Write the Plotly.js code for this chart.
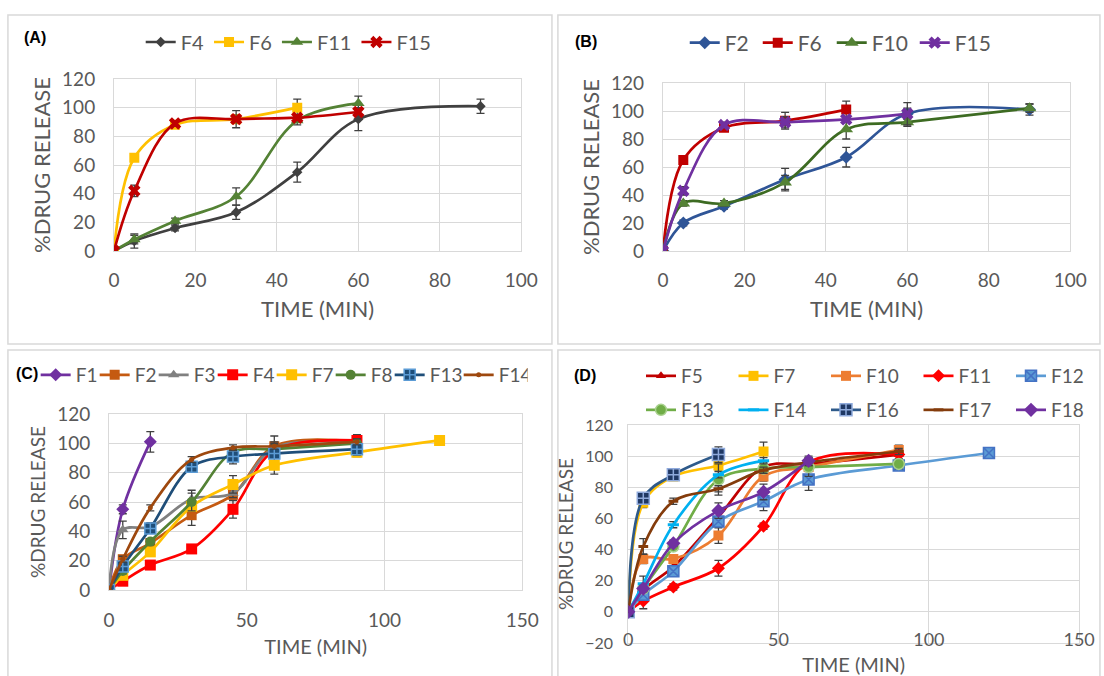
<!DOCTYPE html>
<html><head><meta charset="utf-8">
<script src="https://cdn.plot.ly/plotly-3.0.1.min.js"></script>
<style>html,body{margin:0;padding:0;background:#fff}#chart{width:1104px;height:676px}</style>
</head><body><div id="chart"></div>
<script>
// ---------------- DATA ----------------
const time = [0, 5, 15, 30, 45, 60, 90, 120];   // minutes

// Panel (A)
const A_F4 = [0, 7, 16, 27, 55, 92, 101];      const A_F4_err = [0, 5, 2, 5, 7, 8, 5];
const A_F6 = [0, 65, 88, 92, 100];             const A_F6_err = [0, 2, 2, 3, 6];
const A_F11 = [0, 8, 21, 38, 91, 103];         const A_F11_err = [0, 3, 2, 6, 3, 5];
const A_F15 = [0, 42, 89, 92, 93, 97];         const A_F15_err = [0, 4, 2, 6, 2, 3];

// Panel (B)
const B_F2 = [0, 20, 32, 51, 67, 98, 101];     const B_F2_err = [0, 2, 2, 8, 7, 4, 4];
const B_F6 = [0, 65, 88, 93, 101];             const B_F6_err = [0, 2, 2, 6, 6];
const B_F10 = [0, 34, 34, 49, 87, 92, 102];    const B_F10_err = [0, 2, 2, 5, 7, 3, 3];
const B_F15 = [0, 43, 90, 92, 94, 98];         const B_F15_err = [0, 3, 2, 4, 2, 8];

// Panel (C)
const C_F1 = [0, 55, 101];                          const C_F1_err = [0, 3, 7];
const C_F2 = [0, 21, 32, 51, 65, 98, 101];          const C_F2_err = [0, 2, 2, 7, 3, 7, 3];
const C_F3 = [0, 41, 43, 62, 66, 97, 100];          const C_F3_err = [0, 6, 3, 6, 3, 4, 3];
const C_F4 = [0, 6, 17, 28, 55, 95, 102];           const C_F4_err = [0, 2, 2, 3, 6, 3, 4];
const C_F7 = [0, 10, 26, 57, 72, 85, 94, 102];      const C_F7_err = [0, 2, 2, 3, 6, 6, 3, 2];
const C_F8 = [0, 13, 33, 60, 94, 96, 100];          const C_F8_err = [0, 2, 2, 6, 3, 3, 3];
const C_F13 = [0, 16, 42, 84, 91, 93, 96];          const C_F13_err = [0, 2, 3, 3, 5, 3, 4];
const C_F14 = [0, 21, 56, 89, 97, 98, 101];         const C_F14_err = [0, 2, 2, 2, 2, 2, 2];

// Panel (D)
const D_F5 = [0, 14, 29, 61, 93, 95, 101];          const D_F5_err = [0, 2, 2, 3, 3, 3, 3];
const D_F7 = [0, 70, 87, 94, 103];                  const D_F7_err = [0, 3, 2, 3, 6];
const D_F10 = [0, 34, 34, 49, 87, 93, 104];         const D_F10_err = [0, 3, 2, 5, 3, 3, 3];
const D_F11 = [0, 7, 16, 28, 55, 96, 101];          const D_F11_err = [0, 5, 2, 5, 2, 3, 3];
const D_F12 = [0, 11, 26, 58, 71, 85, 94, 102];     const D_F12_err = [0, 2, 2, 3, 6, 7, 3, 2];
const D_F13 = [0, 15, 42, 85, 92, 93, 95];          const D_F13_err = [0, 2, 2, 10, 3, 6, 3];
const D_F14 = [0, 18, 56, 88, 97];                  const D_F14_err = [0, 5, 2, 2, 2];
const D_F16 = [0, 73, 88, 101];                     const D_F16_err = [0, 3, 2, 5];
const D_F17 = [0, 42, 71, 79, 91, 96, 103];         const D_F17_err = [0, 5, 2, 2, 2, 2, 2];
const D_F18 = [0, 15, 44, 65, 77, 97];              const D_F18_err = [0, 2, 2, 5, 5, 3];

const xTitle = 'TIME (MIN)';
const yTitle = '%DRUG RELEASE';

// ---------------- STYLE ----------------
const FONT = 'Lato, "Open Sans", sans-serif';
const TXT = '#595959';
const GRID = '#D9D9D9';
const ERRC = '#404040';

function tr(name, y, err, ax, legend, color, symbol, size, extra) {
  const t = {
    type: 'scatter', mode: 'lines+markers', name: name,
    x: time.slice(0, y.length), y: y,
    xaxis: 'x' + (ax === 1 ? '' : ax), yaxis: 'y' + (ax === 1 ? '' : ax),
    legend: legend,
    line: {color: color, width: 2.7, shape: 'spline', smoothing: 1},
    marker: {symbol: symbol, size: size, color: color, line: {width: 0}},
    error_y: {type: 'data', array: err, visible: true, color: ERRC, thickness: 1.3, width: 4},
    hoverinfo: 'skip'
  };
  if (extra) {
    if (extra.line) Object.assign(t.line, extra.line);
    if (extra.marker) Object.assign(t.marker, extra.marker);
    if (extra.legendwidth !== undefined) t.legendwidth = extra.legendwidth;
  }
  return t;
}

const data = [
  // A
  tr('F4', A_F4, A_F4_err, 1, 'legend', '#404040', 'diamond', 8),
  tr('F6', A_F6, A_F6_err, 1, 'legend', '#FFC000', 'square', 10),
  tr('F11', A_F11, A_F11_err, 1, 'legend', '#548235', 'triangle-up', 11),
  tr('F15', A_F15, A_F15_err, 1, 'legend', '#C00000', 'x', 11),
  // B
  tr('F2', B_F2, B_F2_err, 2, 'legend2', '#2F5597', 'diamond', 10, {legendwidth: 28}),
  tr('F6', B_F6, B_F6_err, 2, 'legend2', '#C00000', 'square', 10, {legendwidth: 29}),
  tr('F10', B_F10, B_F10_err, 2, 'legend2', '#3D6B22', 'triangle-up', 12, {marker: {color: '#548235'}, legendwidth: 38}),
  tr('F15', B_F15, B_F15_err, 2, 'legend2', '#7030A0', 'x', 11, {legendwidth: 38}),
  // C
  tr('F1', C_F1, C_F1_err, 3, 'legend3', '#7030A0', 'diamond', 10, {legendwidth: 14}),
  tr('F2', C_F2, C_F2_err, 3, 'legend3', '#C55A11', 'square', 10, {legendwidth: 14}),
  tr('F3', C_F3, C_F3_err, 3, 'legend3', '#808080', 'triangle-up', 10, {legendwidth: 14}),
  tr('F4', C_F4, C_F4_err, 3, 'legend3', '#FF0000', 'square', 11, {legendwidth: 14}),
  tr('F7', C_F7, C_F7_err, 3, 'legend3', '#FFC000', 'square', 11, {legendwidth: 14}),
  tr('F8', C_F8, C_F8_err, 3, 'legend3', '#548235', 'circle', 10, {legendwidth: 14}),
  tr('F13', C_F13, C_F13_err, 3, 'legend3', '#1F4E79', 'square-cross', 11, {marker: {line: {color: '#5B9BD5', width: 1.5}}, legendwidth: 24}),
  tr('F14', C_F14, C_F14_err, 3, 'legend3', '#9E480E', 'circle', 5, {legendwidth: 24}),
  // D row 1
  tr('F5', D_F5, D_F5_err, 4, 'legend4', '#C00000', 'triangle-up', 9),
  tr('F7', D_F7, D_F7_err, 4, 'legend4', '#FFC000', 'square', 10),
  tr('F10', D_F10, D_F10_err, 4, 'legend4', '#ED7D31', 'square', 10),
  tr('F11', D_F11, D_F11_err, 4, 'legend4', '#FF0000', 'diamond', 10),
  tr('F12', D_F12, D_F12_err, 4, 'legend4', '#5B9BD5', 'square-x', 11, {marker: {line: {color: '#4472C4', width: 1.5}}}),
  // D row 2
  tr('F13', D_F13, D_F13_err, 4, 'legend5', '#70AD47', 'circle', 11, {marker: {line: {color: '#A9D18E', width: 1.5}}}),
  tr('F14', D_F14, D_F14_err, 4, 'legend5', '#00B0F0', 'line-ew', 8, {marker: {line: {color: '#00B0F0', width: 3}}}),
  tr('F16', D_F16, D_F16_err, 4, 'legend5', '#1F3864', 'square-cross', 12, {line: {color: '#2E5A8A'}, marker: {line: {color: '#8FAADC', width: 1.5}}}),
  tr('F17', D_F17, D_F17_err, 4, 'legend5', '#843C0C', 'line-ew', 7, {marker: {line: {color: '#843C0C', width: 3}}}),
  tr('F18', D_F18, D_F18_err, 4, 'legend5', '#7030A0', 'diamond', 11)
];

// ---------------- LAYOUT ----------------
const W = 1104, H = 676;
const px = v => v / W;
const py = v => 1 - v / H;

function xax(dom, range, dtick, tickSize, titleSize, labStand, titleStand) {
  return {
    domain: dom, range: range, dtick: dtick, tick0: 0, autorange: false,
    showgrid: true, gridcolor: GRID, gridwidth: 1, zeroline: false,
    showline: true, mirror: true, linecolor: GRID, linewidth: 1, ticks: '',
    tickfont: {family: FONT, size: tickSize, color: TXT},
    ticklabelstandoff: labStand, fixedrange: true,
    title: {text: xTitle, font: {family: FONT, size: titleSize, color: TXT}, standoff: titleStand}
  };
}
function yax(dom, range, anchor, tickSize, titleSize, labStand, titleStand) {
  return {
    domain: dom, range: range, dtick: 20, tick0: 0, autorange: false, anchor: anchor,
    showgrid: true, gridcolor: GRID, gridwidth: 1, zeroline: false,
    showline: true, mirror: true, linecolor: GRID, linewidth: 1, ticks: '',
    tickfont: {family: FONT, size: tickSize, color: TXT},
    ticklabelstandoff: labStand, fixedrange: true,
    title: {text: yTitle, font: {family: FONT, size: titleSize, color: TXT}, standoff: titleStand}
  };
}
function leg(xp, yp, size) {
  return {
    x: px(xp), y: py(yp), xanchor: 'left', yanchor: 'middle', orientation: 'h',
    font: {family: FONT, size: size, color: TXT}, bgcolor: 'rgba(0,0,0,0)',
    itemwidth: 30, borderwidth: 0, traceorder: 'normal', itemclick: false, itemdoubleclick: false
  };
}

const layout = {
  width: W, height: H, margin: {l: 0, r: 0, t: 0, b: 0},
  paper_bgcolor: '#FFFFFF', plot_bgcolor: '#FFFFFF',
  font: {family: FONT, color: TXT},
  showlegend: true,
  xaxis:  Object.assign(xax([px(115), px(526)], [0, 100], 20, 19, 22, 12, 11), {anchor: 'y'}),
  yaxis:  yax([py(251), py(79)], [0, 120], 'x', 19, 22, 14, 5),
  xaxis2: Object.assign(xax([px(669), px(1080)], [0, 100], 20, 19, 22, 12, 11), {anchor: 'y2'}),
  yaxis2: yax([py(251), py(83)], [0, 120], 'x2', 19, 22, 14, 5),
  xaxis3: Object.assign(xax([px(110), px(527)], [0, 150], 50, 19, 20, 13, 10), {anchor: 'y3'}),
  yaxis3: yax([py(590), py(414)], [0, 120], 'x3', 19, 19, 14, 6),
  xaxis4: Object.assign(xax([px(634), px(1089)], [0, 150], 50, 18, 20, -20, 10), {anchor: 'y4'}),
  yaxis4: yax([py(643), py(425)], [-20, 120], 'x4', 16, 19, 11, 6),
  legend:  leg(142, 42, 20),
  legend2: Object.assign(leg(691, 43, 21), {entrywidth: 28}),
  legend3: Object.assign(leg(36, 375, 19), {entrywidth: 14}),
  legend4: Object.assign(leg(647, 376, 19), {entrywidth: 47.5}),
  legend5: Object.assign(leg(647, 410, 19), {entrywidth: 47.5}),
  shapes: [
    [8, 15, 557, 344], [563, 15, 1110, 344], [8, 350, 557, 690], [563, 350, 1110, 690]
  ].map(b => ({type: 'rect', xref: 'paper', yref: 'paper', x0: px(b[0]), x1: px(b[2]), y0: py(b[3]), y1: py(b[1]),
              line: {color: GRID, width: 1.5}, fillcolor: 'rgba(0,0,0,0)', layer: 'below'})),
  annotations: [
    ['(A)', 22, 38], ['(B)', 578, 42], ['(C)', 14, 373], ['(D)', 577, 375]
  ].map(a => ({text: '<b>' + a[0] + '</b>', xref: 'paper', yref: 'paper', x: px(a[1]), y: py(a[2]),
              xanchor: 'left', yanchor: 'middle', showarrow: false,
              font: {family: '"Liberation Sans", Arial, sans-serif', size: 16, color: '#000000'}}))
};

Plotly.newPlot('chart', data, layout, {displayModeBar: false, staticPlot: true});
</script>
</body></html>
